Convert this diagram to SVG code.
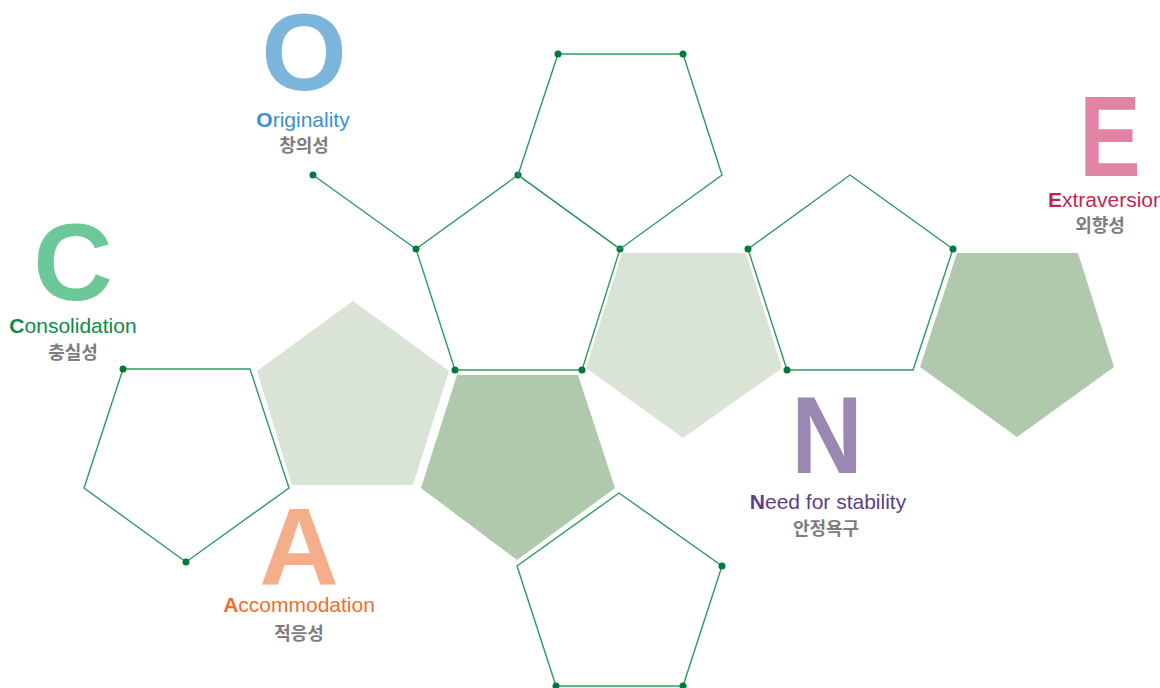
<svg xmlns="http://www.w3.org/2000/svg" width="1160" height="688" viewBox="0 0 1160 688">
<style>
.ol{fill:none;stroke:#2f9a62;stroke-width:1.4;stroke-linejoin:miter}
.lt{fill:#d9e4d7}
.dk{fill:#b0c9ad}
.dot{fill:#00793d}
.big{font-family:"Liberation Sans",Arial,sans-serif;font-weight:bold;font-size:110px;text-anchor:middle}
.lab{font-family:"Liberation Sans",Arial,sans-serif;font-size:21px;text-anchor:middle}
.lab tspan.f{font-weight:bold}
.kr{font-family:"Noto Sans CJK KR",sans-serif;font-weight:bold;font-size:18px;fill:#7d7d7d;text-anchor:middle}
</style>
<rect width="1160" height="688" fill="#ffffff"/>
<g id="fill-light-right"><polygon class="lt" points="622,253 746,253 782,368 683,438 586,368"/></g>
<g id="fill-light-left"><polygon class="lt" points="353,301 449,371 413,485 292,485 257,371"/></g>
<g id="fill-dark-center"><polygon class="dk" points="457,375 578,375 615,488 517,560 421,488"/></g>
<g id="fill-dark-right"><polygon class="dk" points="957,253 1078,253 1114,367 1017,437 920,367"/></g>
<g id="connectors">
<line class="ol" x1="313" y1="175" x2="416" y2="249"/>
</g>
<g id="pent-center"><polygon class="ol" points="518,175 620,249 582,370 455,370 416,249"/>
<circle class="dot" cx="518" cy="175" r="3.5"/><circle class="dot" cx="620" cy="249" r="3.5"/><circle class="dot" cx="582" cy="370" r="3.5"/><circle class="dot" cx="455" cy="370" r="3.5"/><circle class="dot" cx="416" cy="249" r="3.5"/></g>
<g id="pent-top"><polygon class="ol" points="558,54 683,54 722,175 620,249 518,175"/>
<circle class="dot" cx="558" cy="54" r="3.5"/><circle class="dot" cx="683" cy="54" r="3.5"/></g>
<g id="pent-right"><polygon class="ol" points="850,175 953,249 913,370 787,370 748,249"/>
<circle class="dot" cx="748" cy="249" r="3.5"/><circle class="dot" cx="953" cy="249" r="3.5"/><circle class="dot" cx="787" cy="370" r="3.5"/></g>
<g id="pent-bottom"><polygon class="ol" points="619,493 722,566 683,686 556,686 517,566"/>
<circle class="dot" cx="722" cy="566" r="3.5"/><circle class="dot" cx="556" cy="686" r="3.5"/><circle class="dot" cx="683" cy="686" r="3.5"/></g>
<g id="pent-left"><polygon class="ol" points="123,369 250,369 289,488 186,562 84,488"/>
<circle class="dot" cx="123" cy="369" r="3.5"/><circle class="dot" cx="186" cy="562" r="3.5"/></g>
<g id="pent-line-end"><circle class="dot" cx="313" cy="175" r="3.5"/></g>
<g id="label-O">
<text class="big" x="304" y="90" fill="#7bb5dc">O</text>
<text class="lab" x="303" y="127" fill="#3a90d0"><tspan class="f">O</tspan>riginality</text>
<text class="kr" x="304" y="152">창의성</text>
</g>
<g id="label-C">
<text class="big" x="73" y="300" fill="#6cc898">C</text>
<text class="lab" x="73" y="333" fill="#0f8a4a"><tspan class="f">C</tspan>onsolidation</text>
<text class="kr" x="73" y="359">충실성</text>
</g>
<g id="label-E">
<text class="big" transform="translate(1110,176) scale(0.8,1)" x="0" y="0" style="font-size:115px" fill="#e084a6">E</text>
<text class="lab" x="1048" y="207" fill="#c0264f" style="text-anchor:start"><tspan class="f">E</tspan>xtraversion</text>
<text class="kr" x="1100" y="232">외향성</text>
</g>
<g id="label-A">
<text class="big" x="299" y="584" fill="#f4ae89">A</text>
<text class="lab" x="299" y="612" fill="#ee6e2b"><tspan class="f">A</tspan>ccommodation</text>
<text class="kr" x="299" y="640">적응성</text>
</g>
<g id="label-N">
<text class="big" transform="translate(827,473) scale(0.9,1)" x="0" y="0" fill="#9a88b2">N</text>
<text class="lab" x="828" y="509" fill="#5a3f8a"><tspan class="f">N</tspan>eed for stability</text>
<text class="kr" x="826" y="535">안정욕구</text>
</g>
</svg>
